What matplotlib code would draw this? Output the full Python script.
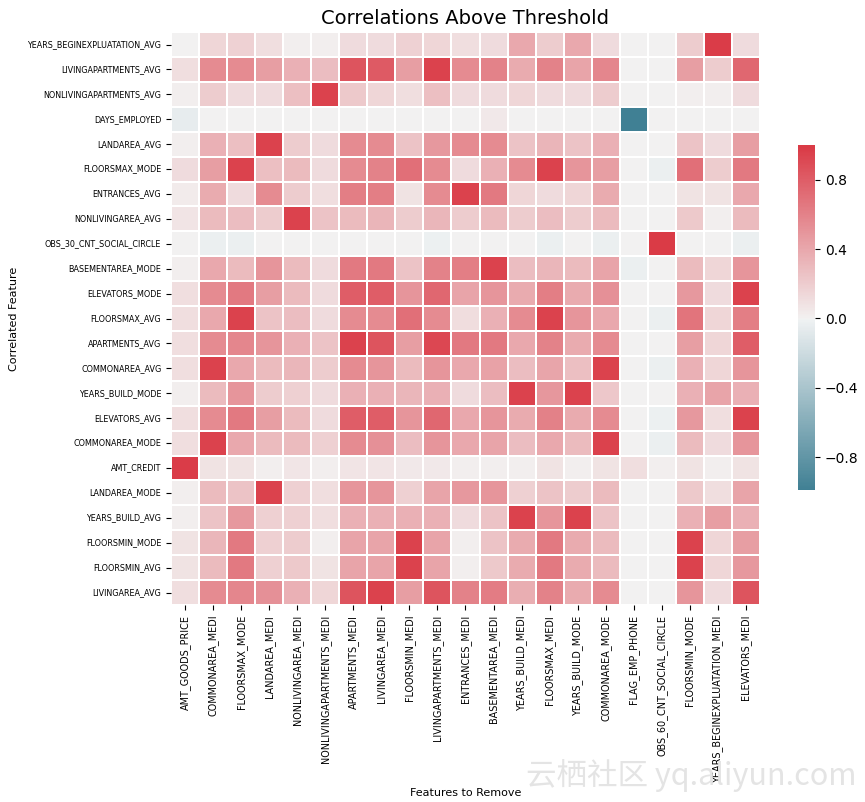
import numpy as np
import pandas as pd
import matplotlib
matplotlib.use('Agg')
import matplotlib.pyplot as plt
import seaborn as sns

# Rows: correlated features, columns: features to remove
row_labels = ['YEARS_BEGINEXPLUATATION_AVG', 'LIVINGAPARTMENTS_AVG', 'NONLIVINGAPARTMENTS_AVG',
              'DAYS_EMPLOYED', 'LANDAREA_AVG', 'FLOORSMAX_MODE', 'ENTRANCES_AVG',
              'NONLIVINGAREA_AVG', 'OBS_30_CNT_SOCIAL_CIRCLE', 'BASEMENTAREA_MODE',
              'ELEVATORS_MODE', 'FLOORSMAX_AVG', 'APARTMENTS_AVG', 'COMMONAREA_AVG',
              'YEARS_BUILD_MODE', 'ELEVATORS_AVG', 'COMMONAREA_MODE', 'AMT_CREDIT',
              'LANDAREA_MODE', 'YEARS_BUILD_AVG', 'FLOORSMIN_MODE', 'FLOORSMIN_AVG',
              'LIVINGAREA_AVG']

col_labels = ['AMT_GOODS_PRICE', 'COMMONAREA_MEDI', 'FLOORSMAX_MODE', 'LANDAREA_MEDI',
              'NONLIVINGAREA_MEDI', 'NONLIVINGAPARTMENTS_MEDI', 'APARTMENTS_MEDI',
              'LIVINGAREA_MEDI', 'FLOORSMIN_MEDI', 'LIVINGAPARTMENTS_MEDI', 'ENTRANCES_MEDI',
              'BASEMENTAREA_MEDI', 'YEARS_BUILD_MEDI', 'FLOORSMAX_MEDI', 'YEARS_BUILD_MODE',
              'COMMONAREA_MODE', 'FLAG_EMP_PHONE', 'OBS_60_CNT_SOCIAL_CIRCLE', 'FLOORSMIN_MODE',
              'YEARS_BEGINEXPLUATATION_MEDI', 'ELEVATORS_MEDI']

# correlation values (one list per row)
corr_values = [
    [0.00, 0.15, 0.17, 0.10, 0.02, 0.02, 0.12, 0.12, 0.17, 0.15, 0.10, 0.12, 0.40, 0.20, 0.40, 0.12, 0.00, 0.00, 0.20, 0.98, 0.12],
    [0.10, 0.55, 0.55, 0.45, 0.35, 0.28, 0.85, 0.82, 0.45, 0.95, 0.55, 0.60, 0.38, 0.60, 0.42, 0.58, 0.00, 0.00, 0.45, 0.20, 0.75],
    [0.02, 0.20, 0.12, 0.12, 0.27, 0.95, 0.22, 0.15, 0.10, 0.27, 0.12, 0.12, 0.15, 0.12, 0.12, 0.20, 0.00, 0.00, 0.02, 0.02, 0.12],
    [-0.05, 0.00, 0.00, 0.00, 0.00, 0.00, 0.00, 0.00, 0.00, 0.00, 0.00, 0.05, 0.00, 0.00, 0.00, 0.00, -0.99, 0.00, 0.00, 0.00, 0.00],
    [0.02, 0.35, 0.27, 0.95, 0.20, 0.12, 0.55, 0.55, 0.25, 0.48, 0.55, 0.55, 0.25, 0.33, 0.25, 0.35, 0.00, 0.00, 0.25, 0.12, 0.45],
    [0.12, 0.45, 0.95, 0.27, 0.30, 0.12, 0.55, 0.60, 0.70, 0.55, 0.12, 0.35, 0.55, 0.95, 0.50, 0.45, 0.00, -0.03, 0.70, 0.20, 0.65],
    [0.03, 0.38, 0.12, 0.55, 0.20, 0.10, 0.62, 0.62, 0.08, 0.55, 0.95, 0.65, 0.15, 0.12, 0.15, 0.38, 0.00, 0.00, 0.08, 0.08, 0.40],
    [0.07, 0.30, 0.28, 0.20, 0.95, 0.25, 0.30, 0.33, 0.20, 0.32, 0.20, 0.30, 0.20, 0.28, 0.20, 0.30, 0.00, 0.00, 0.22, 0.02, 0.30],
    [0.00, -0.03, -0.03, 0.00, 0.00, 0.00, 0.00, 0.00, 0.00, -0.02, 0.00, 0.00, 0.00, -0.03, 0.00, -0.03, 0.00, 1.00, 0.00, 0.00, -0.03],
    [0.02, 0.40, 0.30, 0.50, 0.30, 0.12, 0.65, 0.65, 0.25, 0.60, 0.62, 0.95, 0.28, 0.32, 0.30, 0.42, -0.03, 0.00, 0.30, 0.15, 0.50],
    [0.10, 0.55, 0.65, 0.45, 0.30, 0.12, 0.80, 0.80, 0.50, 0.75, 0.42, 0.50, 0.38, 0.62, 0.38, 0.52, 0.00, 0.00, 0.48, 0.12, 0.95],
    [0.10, 0.40, 0.95, 0.25, 0.28, 0.12, 0.55, 0.55, 0.70, 0.55, 0.11, 0.35, 0.55, 0.95, 0.50, 0.40, 0.00, -0.03, 0.68, 0.15, 0.62],
    [0.10, 0.55, 0.58, 0.50, 0.35, 0.25, 0.95, 0.85, 0.45, 0.92, 0.65, 0.65, 0.40, 0.60, 0.38, 0.55, 0.00, 0.00, 0.45, 0.15, 0.80],
    [0.10, 0.95, 0.40, 0.30, 0.32, 0.20, 0.55, 0.50, 0.30, 0.50, 0.40, 0.43, 0.28, 0.41, 0.27, 0.95, 0.00, -0.03, 0.35, 0.15, 0.50],
    [0.02, 0.30, 0.50, 0.20, 0.18, 0.12, 0.35, 0.35, 0.32, 0.35, 0.12, 0.28, 0.95, 0.49, 0.95, 0.23, 0.00, 0.00, 0.35, 0.42, 0.35],
    [0.10, 0.55, 0.65, 0.45, 0.30, 0.12, 0.80, 0.80, 0.50, 0.75, 0.40, 0.50, 0.38, 0.61, 0.38, 0.55, 0.00, -0.02, 0.48, 0.10, 0.95],
    [0.10, 0.95, 0.40, 0.30, 0.30, 0.18, 0.55, 0.52, 0.28, 0.50, 0.40, 0.42, 0.28, 0.40, 0.30, 0.95, 0.00, -0.03, 0.30, 0.12, 0.50],
    [0.98, 0.08, 0.08, 0.02, 0.06, 0.02, 0.07, 0.07, 0.05, 0.05, 0.02, 0.02, 0.02, 0.08, 0.02, 0.08, 0.10, 0.02, 0.08, 0.02, 0.08],
    [0.02, 0.30, 0.25, 0.95, 0.18, 0.10, 0.50, 0.50, 0.18, 0.42, 0.48, 0.50, 0.18, 0.25, 0.20, 0.30, 0.00, 0.00, 0.22, 0.10, 0.42],
    [0.02, 0.25, 0.48, 0.18, 0.18, 0.10, 0.35, 0.35, 0.35, 0.35, 0.12, 0.25, 0.95, 0.50, 0.95, 0.25, 0.00, 0.00, 0.35, 0.45, 0.35],
    [0.08, 0.32, 0.65, 0.18, 0.20, 0.02, 0.42, 0.42, 0.95, 0.42, 0.02, 0.25, 0.38, 0.65, 0.38, 0.30, 0.00, 0.00, 0.95, 0.15, 0.45],
    [0.08, 0.30, 0.65, 0.18, 0.22, 0.08, 0.42, 0.42, 0.95, 0.42, 0.02, 0.22, 0.38, 0.65, 0.38, 0.30, 0.00, 0.00, 0.95, 0.15, 0.48],
    [0.10, 0.55, 0.58, 0.52, 0.35, 0.15, 0.85, 0.95, 0.45, 0.85, 0.60, 0.63, 0.37, 0.60, 0.38, 0.55, 0.00, 0.00, 0.50, 0.12, 0.85],
]

corr_matrix_plot = pd.DataFrame(corr_values, index=row_labels, columns=col_labels)

fig = plt.figure(figsize=(8.65, 8.02), dpi=100)
ax = fig.add_axes([0.1977, 0.2456, 0.6809, 0.7144])
cax = fig.add_axes([0.9225, 0.389, 0.0197, 0.430])

# Diverging colormap, centered on zero
cmap = sns.diverging_palette(220, 10, as_cmap=True)
sns.heatmap(corr_matrix_plot, cmap=cmap, center=0, linewidths=1.2, linecolor='white',
            ax=ax, cbar_ax=cax)

ax.set_yticks([x + 0.5 for x in range(corr_matrix_plot.shape[0])])
ax.set_yticklabels(list(corr_matrix_plot.index), size=5.8, rotation=0)
ax.set_xticks([x + 0.5 for x in range(corr_matrix_plot.shape[1])])
ax.set_xticklabels(list(corr_matrix_plot.columns), size=6.9, rotation=90)
ax.tick_params(length=3.5, width=0.8)

ax.set_title('Correlations Above Threshold', size=14)
ax.set_xlabel('Features to Remove', size=8, labelpad=4)
ax.set_ylabel('Correlated Feature', size=8, labelpad=6)

cax.set_yticks([-0.8, -0.4, 0.0, 0.4, 0.8])
cax.tick_params(labelsize=10, length=3.5)
for sp in cax.spines.values():
    sp.set_visible(False)

# site watermark
fig.text(0.99, 0.033, '云栖社区 yq.aliyun.com', ha='right', va='center', size=22,
         color='#e4e4e4', family=['Noto Sans CJK SC', 'DejaVu Sans'])

fig.savefig('out.png', dpi=100)
